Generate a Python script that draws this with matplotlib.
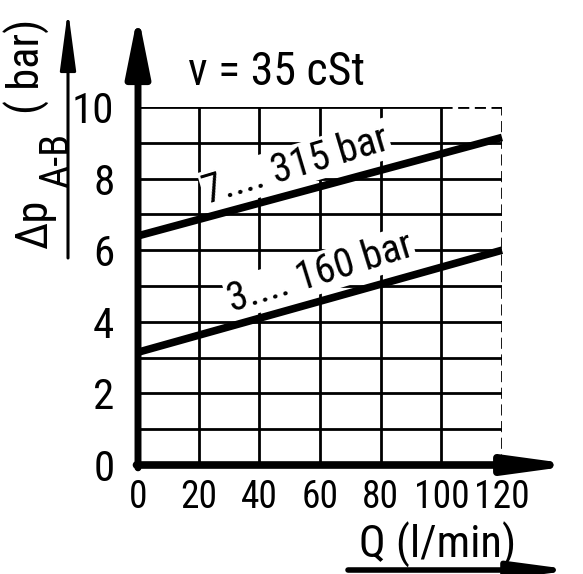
import matplotlib
matplotlib.use("Agg")
import matplotlib.pyplot as plt
from matplotlib import font_manager
import numpy as np

# ---- data ----
Q = [0, 120]
dp_high = [6.4, 9.15]
dp_low = [3.15, 6.0]
label_high = "7.... 315 bar"
label_low = "3.... 160 bar"
label_high_x = 52
label_low_x = 60
x_ticks = [0, 20, 40, 60, 80, 100, 120]
y_ticks = [0, 2, 4, 6, 8, 10]
y_grid = [1, 2, 3, 4, 5, 6, 7, 8, 9]
x_grid = [20, 40, 60, 80, 100]
title = "ν = 35 cSt"

names = {f.name for f in font_manager.fontManager.ttflist}
if 'Liberation Sans Narrow' in names:
    fam = 'Liberation Sans Narrow'
    FS = 28
elif 'Roboto Condensed' in names:
    fam = 'Roboto Condensed'
    FS = 27
elif 'Roboto' in names:
    fam = 'Roboto'
    FS = 25
else:
    fam = 'DejaVu Sans'
    FS = 21
plt.rcParams['font.family'] = [fam, 'DejaVu Sans']

W, H = 583, 574
fig = plt.figure(figsize=(W / 100, H / 100), dpi=100)

def fx(px):
    return px / W

def fy(py):
    return 1 - py / H

ax = fig.add_axes([fx(138), fy(465), fx(502) - fx(138), fy(107) - fy(465)])
ax.set_xlim(0, 120)
ax.set_ylim(0, 10)
for s in ax.spines.values():
    s.set_visible(False)

ax.set_xticks(x_ticks)
ax.set_yticks(y_ticks)
ax.set_xticklabels([str(v) for v in x_ticks], fontsize=FS)
ax.set_yticklabels([str(v) for v in y_ticks], fontsize=FS + 4)
ax.tick_params(axis='x', length=0, pad=10)
ax.tick_params(axis='y', length=0, pad=17)

# grid
for yv in y_grid:
    ax.plot([0, 120], [yv, yv], color='black', lw=2, solid_capstyle='butt', zorder=1)
for xv in x_grid:
    ax.plot([xv, xv], [0, 10], color='black', lw=2, solid_capstyle='butt', zorder=1)
ax.plot([0, 100], [10, 10], color='black', lw=2, zorder=1)
ax.plot([100, 120], [10, 10], color='black', lw=2, ls=(0, (4, 2)), zorder=1)
ax.plot([120, 120], [0, 10], color='black', lw=2, ls=(0, (4, 2)), zorder=1)

# curves
ax.plot(Q, dp_high, color='black', lw=5.5, solid_capstyle='butt', zorder=4, clip_on=False)
ax.plot(Q, dp_low, color='black', lw=5.5, solid_capstyle='butt', zorder=4, clip_on=False)

fig.canvas.draw()

def angle_of(xs, ys):
    p0 = ax.transData.transform((xs[0], ys[0]))
    p1 = ax.transData.transform((xs[1], ys[1]))
    return np.degrees(np.arctan2(p1[1] - p0[1], p1[0] - p0[0]))

def line_at(xs, ys, x):
    return ys[0] + (ys[1] - ys[0]) * (x - xs[0]) / (xs[1] - xs[0])

for lab, lx, ys, off in [(label_high, label_high_x, dp_high, 0.78),
                         (label_low, label_low_x, dp_low, 0.8)]:
    ang = angle_of(Q, ys) + 1.5
    ax.text(lx, line_at(Q, ys, lx) + off, lab, fontsize=FS + 2, rotation=ang,
            rotation_mode='anchor', ha='center', va='center', zorder=3,
            bbox=dict(facecolor='white', edgecolor='none', pad=1))

# axes arrows
ax.annotate('', xy=(0, 12.6), xytext=(0, -0.08), xycoords='data',
            arrowprops=dict(arrowstyle='-|>,head_length=0.9,head_width=0.18',
                            lw=5, color='black', mutation_scale=40, shrinkA=0, shrinkB=0),
            annotation_clip=False, zorder=6)
ax.annotate('', xy=(145, 0), xytext=(-0.5, 0), xycoords='data',
            arrowprops=dict(arrowstyle='-|>,head_length=0.95,head_width=0.13',
                            lw=5.5, color='black', mutation_scale=40, shrinkA=0, shrinkB=0),
            annotation_clip=False, zorder=6)

# title
fig.text(fx(276), fy(72), title, fontsize=FS + 6, ha='center', va='center')

# y label
fig.text(fx(35), fy(224), "Δp", fontsize=FS + 5, rotation=90, ha='center', va='center')
fig.text(fx(57), fy(160), "A-B", fontsize=FS + 2, rotation=90, ha='center', va='center')
fig.text(fx(27), fy(66), "( bar)", fontsize=FS + 5, rotation=90, ha='center', va='center')
fig.add_artist(matplotlib.patches.FancyArrowPatch(
    (fx(68), fy(258)), (fx(68), fy(10)), transform=fig.transFigure,
    arrowstyle='-|>,head_length=0.9,head_width=0.12', mutation_scale=40,
    lw=2.2, color='black', shrinkA=0, shrinkB=0))

# x label
fig.text(fx(438), fy(545), "Q (l/min)", fontsize=FS + 5, ha='center', va='center')
fig.add_artist(matplotlib.patches.FancyArrowPatch(
    (fx(348), fy(570)), (fx(574), fy(570)), transform=fig.transFigure,
    arrowstyle='-|>,head_length=0.9,head_width=0.12', mutation_scale=40,
    lw=4, color='black', shrinkA=0, shrinkB=0))

fig.savefig("out.png", dpi=100)
